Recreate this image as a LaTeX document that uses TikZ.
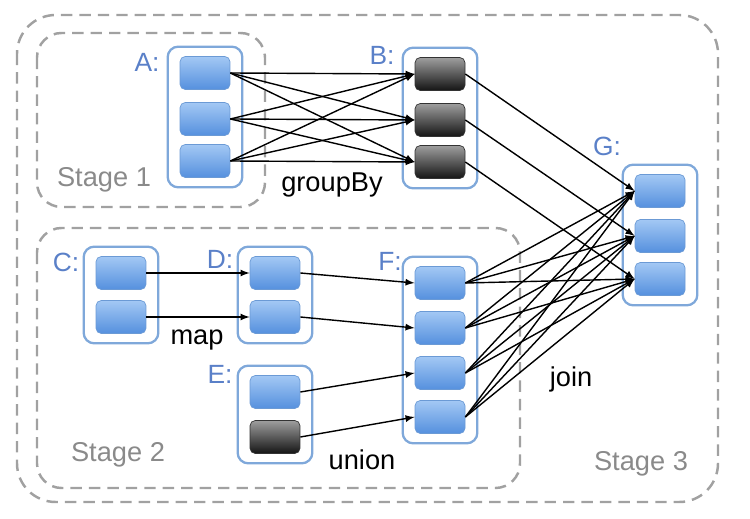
\documentclass[tikz,border=0pt]{standalone}
\usepackage{fontspec}
\setmainfont{Liberation Sans}
\usetikzlibrary{fit}
\definecolor{parttop}{HTML}{A3C8F4}
\definecolor{partbot}{HTML}{5590DE}
\definecolor{partedge}{HTML}{6B9AD5}
\definecolor{rddedge}{HTML}{7FA8DA}
\definecolor{lblblue}{HTML}{5A80C8}
\definecolor{stagegray}{HTML}{8A8A8A}
\tikzset{>=latex}
\tikzset{
  part/.style = {draw=partedge, rounded corners=3pt, inner sep=0pt,
    minimum width=1cm, minimum height=0.66cm,
    top color=parttop, bottom color=partbot},
  darkpart/.style = {part, draw=black!80,
    top color=black!38, middle color=black!62, bottom color=black!92},
  rdd/.style = {draw=rddedge, line width=1.3pt, rounded corners=6pt,
    inner xsep=0.24cm, inner ysep=0.19cm, fit=#1},
  stage/.style = {draw=stagegray!80, line width=1.4pt,
    dash pattern=on 6.5pt off 4pt},
  lbl/.style = {text=lblblue, font=\fontsize{15}{18}\selectfont},
  oplbl/.style = {font=\fontsize{15.5}{18}\selectfont},
  stagelbl/.style = {text=stagegray, font=\fontsize{15.5}{18}\selectfont},
  flow/.style = {->, line width=0.8pt}
}

\begin{document}
\begin{tikzpicture}[x=0.02cm, y=-0.02cm]
  \useasboundingbox (0,0) rectangle (750,519);

  % stages
  \draw[stage, rounded corners=22pt] (17,15) rectangle (718,502);
  \draw[stage, rounded corners=14pt] (37,33) rectangle (265,207);
  \draw[stage, rounded corners=14pt] (37,228) rectangle (520,488);

  % partitions
  \foreach \n/\y in {1/73, 2/119, 3/161} {
    \node[part] (a\n) at (205,\y) {};
    \node[darkpart] (b\n) at (440,\y+1) {};
  }
  \foreach \n/\y in {1/191, 2/236, 3/279}
    \node[part] (g\n) at (660,\y) {};
  \foreach \n/\y in {1/273, 2/317} {
    \node[part] (c\n) at (121,\y) {};
    \node[part] (d\n) at (275,\y) {};
  }
  \node[part] (e1) at (275,392) {};
  \node[darkpart] (e2) at (275,437) {};
  \foreach \n/\y in {1/283, 2/328, 3/373, 4/417}
    \node[part] (f\n) at (440,\y) {};

  % datasets
  \node[rdd={(a1)(a3)}] (A) {};
  \node[rdd={(b1)(b3)}] (B) {};
  \node[rdd={(c1)(c2)}] (C) {};
  \node[rdd={(d1)(d2)}] (D) {};
  \node[rdd={(e1)(e2)}] (E) {};
  \node[rdd={(f1)(f4)}] (F) {};
  \node[rdd={(g1)(g3)}] (G) {};

  \node[lbl] (lA) at (147,62) {A:};
  \node[lbl] (lB) at (382,55) {B:};
  \node[lbl] (lC) at (66,262) {C:};
  \node[lbl] (lD) at (220,259) {D:};
  \node[lbl] (lE) at (220,374) {E:};
  \node[lbl] (lF) at (390,261) {F:};
  \node[lbl] (lG) at (607,146) {G:};

  % dependencies
  \foreach \i in {1,2,3}
    \foreach \j in {1,2,3}
      \draw[flow] (a\i.east) -- (b\j.west);
  \foreach \i in {1,2,3}
    \draw[flow] (b\i.east) -- (g\i.west);
  \foreach \i in {1,2}
    \draw[flow] (c\i.east) -- (d\i.west);
  \draw[flow] (d1.east) -- (f1.west);
  \draw[flow] (d2.east) -- (f2.west);
  \draw[flow] (e1.east) -- (f3.west);
  \draw[flow] (e2.east) -- (f4.west);
  \foreach \i in {1,...,4}
    \foreach \j in {1,2,3}
      \draw[flow] (f\i.east) -- (g\j.west);

  % operations and stages
  \node[oplbl] (groupby) at (332,185) {groupBy};
  \node[oplbl] (map) at (197,340) {map};
  \node[oplbl] (union) at (362,460) {union};
  \node[oplbl] (join) at (571,379) {join};
  \node[stagelbl] (s1) at (104,180) {Stage 1};
  \node[stagelbl] (s2) at (118,455) {Stage 2};
  \node[stagelbl] (s3) at (641,464) {Stage 3};
\end{tikzpicture}
\end{document}
